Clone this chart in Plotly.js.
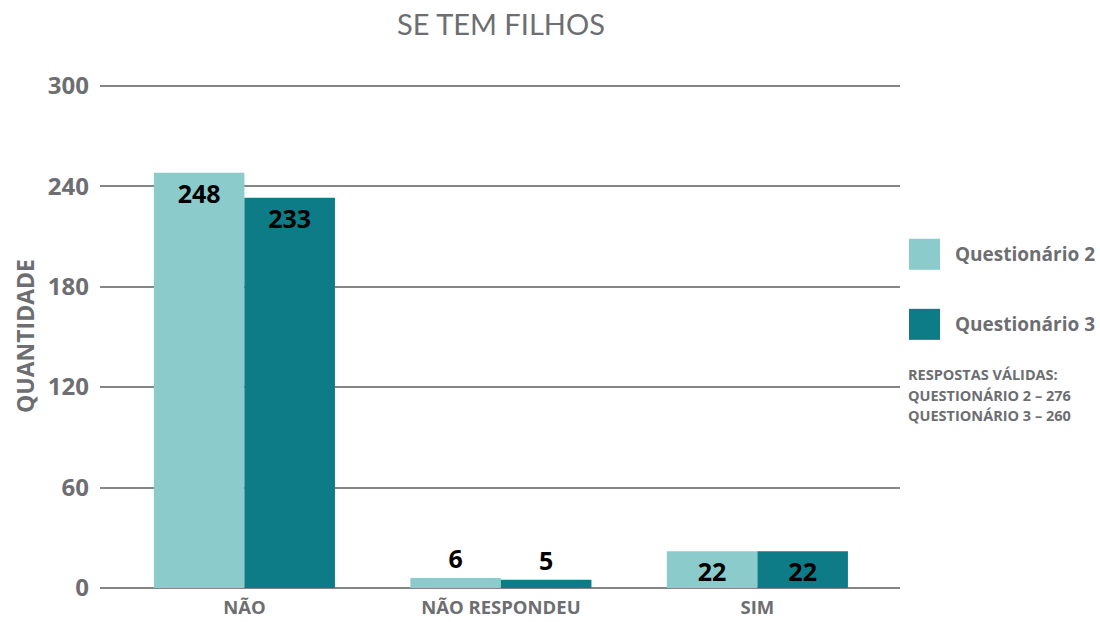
<!DOCTYPE html>
<html>
<head>
<meta charset="utf-8">
<script src="https://cdn.plot.ly/plotly-3.0.1.min.js"></script>
<style>html,body{margin:0;padding:0;background:#fff;}#chart{width:1100px;height:622px;}</style>
</head>
<body>
<div id="chart"></div>
<script>
const categories = ['NÃO', 'NÃO RESPONDEU', 'SIM'];
const seriesNames = ['Questionário 2', 'Questionário 3'];
const q2 = [248, 6, 22];
const q3 = [233, 5, 22];
const yTicks = [0, 60, 120, 180, 240, 300];
const note = ['RESPOSTAS VÁLIDAS:', 'QUESTIONÁRIO 2 – 276', 'QUESTIONÁRIO 3 – 260'];

const grey = '#6d6e71';
const colors = ['#8ccbcb', '#0e7c86'];
const positions = v => v.map(x => x >= 15 ? 'inside' : 'outside');
const labelFont = {family: 'Open Sans', size: 25, color: '#000', weight: 700};

const traces = [q2, q3].map((vals, i) => ({
  type: 'bar',
  name: seriesNames[i],
  x: categories,
  y: vals,
  marker: {color: colors[i]},
  text: vals.map(String),
  textposition: positions(vals),
  textangle: 0,
  insidetextanchor: 'end',
  constraintext: 'none',
  textfont: labelFont,
  insidetextfont: labelFont,
  outsidetextfont: labelFont,
  cliponaxis: false,
  hoverinfo: 'x+y',
  showlegend: false
}));

const shapes = [];
const annotations = [];
// custom legend (paper coords: plot x 100..900, y 84.3..588)
const top0 = 84.3;
const px = x => (x - 100) / 800;
const py = y => (588 - y) / (588 - top0);
[[239, 270], [309, 340]].forEach((yy, i) => {
  shapes.push({type: 'rect', xref: 'paper', yref: 'paper', x0: px(909), x1: px(940), y0: py(yy[1]), y1: py(yy[0]), fillcolor: colors[i], line: {width: 0}});
  annotations.push({xref: 'paper', yref: 'paper', x: px(953), y: py((yy[0] + yy[1]) / 2), xanchor: 'left', yanchor: 'middle', showarrow: false, text: seriesNames[i], font: {family: 'Open Sans', size: 19, color: grey, weight: 700}});
});
note.forEach((t, i) => {
  annotations.push({xref: 'paper', yref: 'paper', x: px(906), y: py(375 + i * 20.5), xanchor: 'left', yanchor: 'middle', showarrow: false, text: t, font: {family: 'Open Sans', size: 14.5, color: grey, weight: 700}});
});

const layout = {
  width: 1100, height: 622,
  margin: {l: 100, r: 200, t: top0, b: 34},
  paper_bgcolor: '#fff', plot_bgcolor: '#fff',
  title: {text: 'SE TEM FILHOS', x: 501 / 1100, xanchor: 'center', y: 1 - 25 / 622, yanchor: 'middle',
          font: {family: 'Lato', size: 29, color: grey}},
  barmode: 'group',
  bargap: 0.294,
  bargroupgap: 0,
  xaxis: {range: [-0.563, 2.556], showgrid: false, showline: false, zeroline: false, ticks: '',
          ticklabelstandoff: 6,
          tickfont: {family: 'Open Sans', size: 18.5, color: grey, weight: 700}, fixedrange: true},
  yaxis: {range: [0, 301], tickvals: yTicks, ticktext: yTicks.map(String), showgrid: true,
          gridcolor: '#858585', gridwidth: 2, zeroline: true, zerolinecolor: '#858585', zerolinewidth: 2,
          showline: false, ticks: '', ticklabelstandoff: 10,
          tickfont: {family: 'Open Sans', size: 24, color: grey, weight: 700},
          title: {text: 'QUANTIDADE', standoff: 6, font: {family: 'Open Sans', size: 23, color: grey, weight: 700}},
          fixedrange: true},
  shapes: shapes,
  annotations: annotations
};

Plotly.newPlot('chart', traces, layout, {displayModeBar: false, staticPlot: true});
</script>
</body>
</html>
